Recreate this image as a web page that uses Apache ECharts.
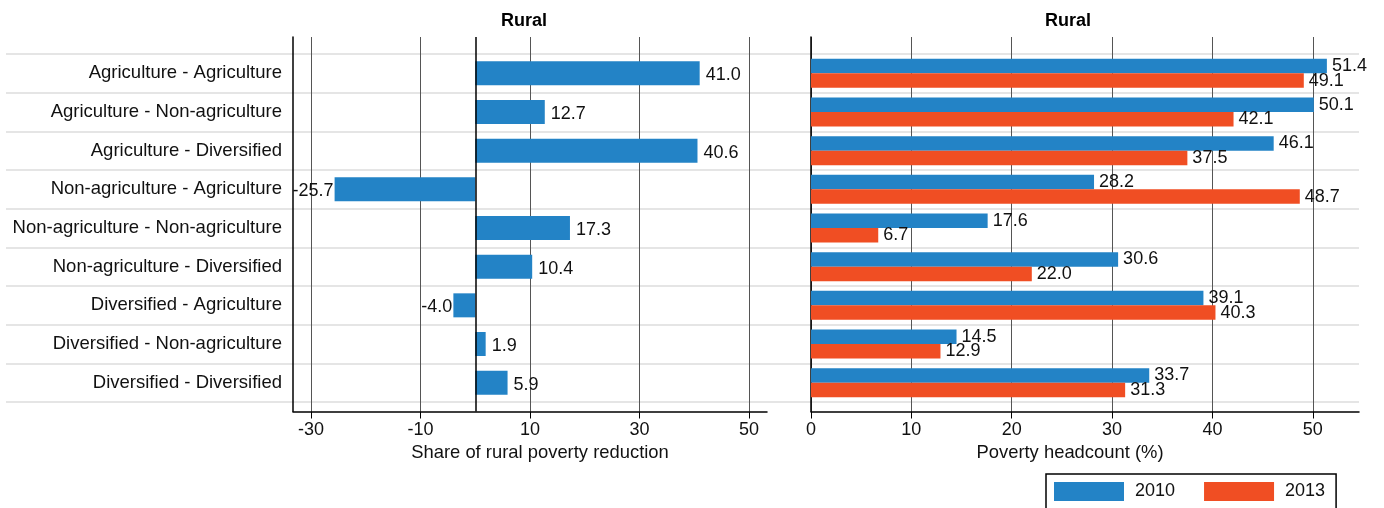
<!DOCTYPE html>
<html>
<head>
<meta charset="utf-8">
<title>Rural poverty by sector transition</title>
<script src="https://cdn.jsdelivr.net/npm/echarts@6/dist/echarts.min.js"></script>
<style>
  html, body { margin: 0; padding: 0; background: #fff; }
  #chart { width: 1384px; height: 508px; }
</style>
</head>
<body>
<div id="chart"></div>
<script>
// Sector of household (first period - second period)
const categories = [
  'Agriculture - Agriculture',
  'Agriculture - Non-agriculture',
  'Agriculture - Diversified',
  'Non-agriculture - Agriculture',
  'Non-agriculture - Non-agriculture',
  'Non-agriculture - Diversified',
  'Diversified - Agriculture',
  'Diversified - Non-agriculture',
  'Diversified - Diversified'
];

// Share of rural poverty reduction (%)
const shareReduction = [41.0, 12.7, 40.6, -25.7, 17.3, 10.4, -4.0, 1.9, 5.9];

// Poverty headcount (%)
const headcount2010 = [51.4, 50.1, 46.1, 28.2, 17.6, 30.6, 39.1, 14.5, 33.7];
const headcount2013 = [49.1, 42.1, 37.5, 48.7, 6.7, 22.0, 40.3, 12.9, 31.3];

// Tick values
const shareTicks = [-30, -10, 10, 30, 50];
const headcountTicks = [0, 10, 20, 30, 40, 50];

const FONT = "'Liberation Sans', Arial, Helvetica, sans-serif";
const TEXT = '#111';
const BLUE = '#2383C6';
const RED = '#F04E23';

const shareRange = { min: -33.3, max: 53.3 };
const headRange = { min: 0, max: 54.6 };

const fmt = p => Number(p.value).toFixed(1);

const frameX = (range, ticks, name, namePad) => ({
  type: 'value',
  min: range.min,
  max: range.max,
  position: 'bottom',
  axisLine: { onZero: false, lineStyle: { color: '#000', width: 1.5 } },
  axisTick: { show: true, customValues: ticks, length: 7, lineStyle: { color: '#000', width: 1 } },
  axisLabel: { customValues: ticks, margin: 10, fontSize: 18, color: TEXT, fontFamily: FONT },
  splitLine: { show: true, lineStyle: { color: '#555', width: 1 } },
  name: name,
  nameLocation: 'middle',
  nameGap: 31,
  nameTextStyle: { fontSize: 18.4, color: TEXT, fontFamily: FONT, padding: namePad }
});

const hiddenX = (range) => ({
  type: 'value', min: range.min, max: range.max, show: false
});

const frameY = () => ({
  type: 'value', min: 0, max: 1,
  axisLine: { show: true, onZero: false, lineStyle: { color: '#000', width: 1.5 } },
  axisTick: { show: false }, axisLabel: { show: false }, splitLine: { show: false }
});

const option = {
  animation: false,
  textStyle: { fontFamily: FONT },
  title: [
    { text: 'Rural', left: 501, top: 12, padding: 0,
      textStyle: { fontSize: 18, fontWeight: 'bold', color: '#000', fontFamily: FONT } },
    { text: 'Rural', left: 1045, top: 12, padding: 0,
      textStyle: { fontSize: 18, fontWeight: 'bold', color: '#000', fontFamily: FONT } }
  ],
  legend: {
    data: ['2010', '2013'],
    left: 1046, top: 474,
    orient: 'horizontal',
    padding: [8, 11, 8, 8],
    itemWidth: 70, itemHeight: 19, itemGap: 29,
    icon: 'rect',
    borderColor: '#000', borderWidth: 1.5,
    textStyle: { fontSize: 18, color: TEXT, fontFamily: FONT, padding: [0, 0, 0, 6] }
  },
  grid: [
    { left: 6, right: 25, top: 54, height: 348 },           // row separators
    { left: 293, width: 474, top: 37, height: 374.5 },      // left frame
    { left: 293, width: 474, top: 54, height: 348 },        // left bars
    { left: 811, width: 548, top: 37, height: 374.5 },      // right frame
    { left: 811, width: 548, top: 54, height: 348 }         // right bars
  ],
  xAxis: [
    { gridIndex: 0, type: 'value', min: 0, max: 1, show: false },
    Object.assign({ gridIndex: 1 }, frameX(shareRange, shareTicks, 'Share of rural poverty reduction', [0, 0, 0, 20])),
    Object.assign({ gridIndex: 2 }, hiddenX(shareRange)),
    Object.assign({ gridIndex: 3 }, frameX(headRange, headcountTicks, 'Poverty headcount (%)', [0, 30, 0, 0])),
    Object.assign({ gridIndex: 4 }, hiddenX(headRange))
  ],
  yAxis: [
    { gridIndex: 0, type: 'category', data: categories, inverse: true,
      axisLine: { show: false }, axisTick: { show: false }, axisLabel: { show: false },
      splitLine: { show: true, interval: 0, lineStyle: { color: '#dcdcdc', width: 1.5 } } },
    Object.assign({ gridIndex: 1 }, frameY()),
    { gridIndex: 2, type: 'category', data: categories, inverse: true,
      axisLine: { show: false }, axisTick: { show: false }, splitLine: { show: false },
      axisLabel: { margin: 11, fontSize: 18.5, color: TEXT, fontFamily: FONT, interval: 0, padding: [4, 0, 0, 0] } },
    Object.assign({ gridIndex: 3 }, frameY()),
    { gridIndex: 4, type: 'category', data: categories, inverse: true,
      axisLine: { show: false }, axisTick: { show: false }, axisLabel: { show: false },
      splitLine: { show: false } }
  ],
  series: [
    {
      // zero reference line across the left frame
      name: 'zero', type: 'line', xAxisIndex: 1, yAxisIndex: 1, data: [],
      silent: true, symbol: 'none',
      markLine: {
        silent: true, symbol: 'none', label: { show: false },
        lineStyle: { color: '#000', width: 1.5, type: 'solid' },
        data: [{ xAxis: 0 }]
      }
    },
    {
      name: 'Share', type: 'bar', xAxisIndex: 2, yAxisIndex: 2,
      barWidth: 24,
      itemStyle: { color: BLUE },
      data: shareReduction.map(v => ({
        value: v,
        label: v < 0 ? { position: 'left', distance: 1 } : { position: 'right', distance: 6 }
      })),
      label: { show: true, offset: [0, 2], fontSize: 18, color: TEXT, fontFamily: FONT, formatter: fmt }
    },
    {
      name: '2010', type: 'bar', xAxisIndex: 4, yAxisIndex: 4,
      barWidth: 14.5, barGap: '0%',
      itemStyle: { color: BLUE },
      data: headcount2010,
      label: { show: true, position: 'right', distance: 5, fontSize: 18, color: TEXT, fontFamily: FONT, formatter: fmt }
    },
    {
      name: '2013', type: 'bar', xAxisIndex: 4, yAxisIndex: 4,
      barWidth: 14.5, barGap: '0%',
      itemStyle: { color: RED },
      data: headcount2013,
      label: { show: true, position: 'right', distance: 5, fontSize: 18, color: TEXT, fontFamily: FONT, formatter: fmt }
    }
  ]
};

const chart = echarts.init(document.getElementById('chart'), null, { renderer: 'canvas' });
chart.setOption(option);
</script>
</body>
</html>
